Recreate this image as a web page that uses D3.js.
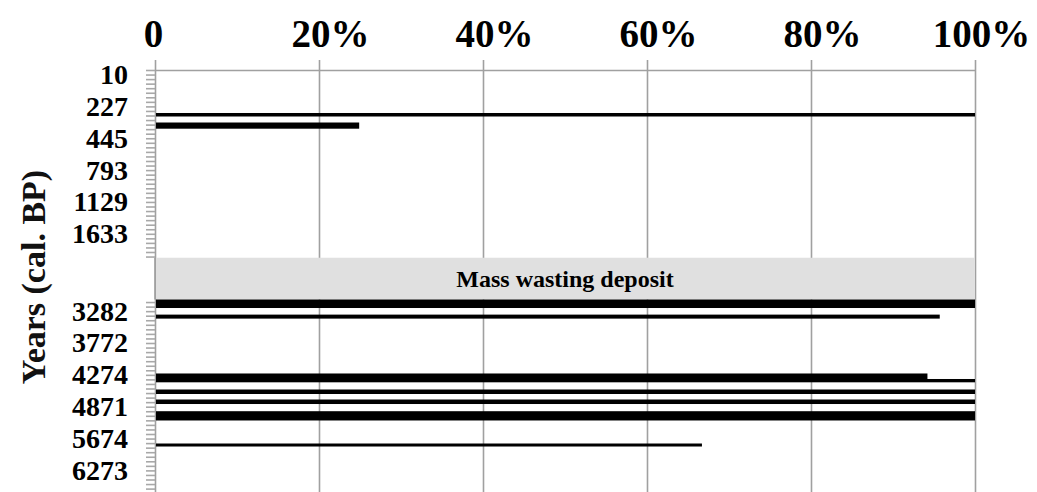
<!DOCTYPE html>
<html>
<head>
<meta charset="utf-8">
<script src="https://cdn.jsdelivr.net/npm/d3@7"></script>
<style>
  body { margin: 0; background: #fff; }
  #chart { width: 1037px; height: 492px; overflow: hidden; }
  .axis text { font-family: "Liberation Serif", "DejaVu Serif", serif; font-weight: bold; fill: #000; }
</style>
</head>
<body>
<div id="chart"></div>
<script>
// percent axis
const xTicks = [0, 20, 40, 60, 80, 100]
const xTickLabels = ['0', '20%', '40%', '60%', '80%', '100%']

// sample index of each labelled age (one label every 7 samples)
const yTickIdx = [0, 7, 14, 21, 28, 35, 52, 59, 66, 73, 80, 87]
const yTickLabels = ['10', '227', '445', '793', '1129', '1633', '3282', '3772', '4274', '4871', '5674', '6273']

// bars: sample interval (index units) and percent
const barStart = [9.45, 11.54, 50.44, 53.76, 66.70, 67.91, 70.22, 72.42, 74.99, 82.09]
const barEnd = [10.22, 12.90, 52.31, 54.64, 67.91, 68.64, 71.21, 73.41, 77.03, 82.75]
const barValue = [100, 24.9, 100, 95.7, 94.2, 100, 100, 100, 100, 66.7]

// mass wasting interval
const gapStart = 41.26
const gapEnd = 50.44
const gapLabel = 'Mass wasting deposit'

const upperSamples = d3.range(0, 42)
const lowerSamples = d3.range(51, 94)

const width = 1037
const height = 492
const margin = { top: 70, left: 155, right: 62 }
const rowH = 4.55
const nRows = 93

const svg = d3.select('#chart')
    .append('svg')
    .attr('width', width)
    .attr('height', height)

const x = d3.scaleLinear()
    .domain([0, 100])
    .range([margin.left, width - margin.right])

const y = d3.scaleLinear()
    .domain([0, nRows])
    .range([margin.top, margin.top + nRows * rowH])

const plotBottom = y(nRows)

// gridlines
svg.append('g')
    .attr('class', 'grid')
    .attr('transform', `translate(0, ${margin.top})`)
    .call(d3.axisBottom(x).tickValues(xTicks).tickSize(plotBottom - margin.top).tickFormat(''))
    .call(g => g.select('.domain').remove())
    .call(g => g.selectAll('line').attr('stroke', '#a0a0a0').attr('stroke-width', 1.6))

// mass wasting band
svg.append('rect')
    .attr('x', x(0) + 1)
    .attr('width', x(100) - x(0) - 1)
    .attr('y', y(gapStart))
    .attr('height', y(gapEnd) - y(gapStart))
    .attr('fill', '#e0e0e0')

svg.append('line')
    .attr('x1', x(0)).attr('x2', x(0))
    .attr('y1', y(gapStart)).attr('y2', y(gapEnd))
    .attr('stroke', '#a0a0a0').attr('stroke-width', 1.6)

svg.append('text')
    .attr('x', (x(0) + x(100)) / 2)
    .attr('y', (y(gapStart) + y(gapEnd)) / 2)
    .attr('text-anchor', 'middle')
    .attr('dy', '0.35em')
    .style('font-family', '"Liberation Serif", serif')
    .style('font-weight', 'bold')
    .style('font-size', '24px')
    .text(gapLabel)

// top axis
svg.append('g')
    .attr('class', 'axis')
    .attr('transform', `translate(0, ${margin.top})`)
    .call(d3.axisTop(x).tickValues(xTicks).tickSize(10).tickSizeOuter(0).tickPadding(13)
        .tickFormat((d, i) => xTickLabels[i]))
    .call(g => g.select('.domain').attr('stroke', '#a0a0a0').attr('stroke-width', 1.6))
    .call(g => g.selectAll('line').attr('stroke', '#a0a0a0').attr('stroke-width', 1.6))
    .call(g => g.selectAll('text')
        .style('font-size', '39px')
        .attr('dx', (d, i) => i === 0 ? -2 : (d === 100 ? 6 : 11)))

// minor ticks on left axis
const leftTicks = svg.append('g')
    .attr('transform', `translate(${margin.left}, 0)`)

leftTicks.append('g')
    .call(d3.axisLeft(y).tickValues(upperSamples).tickSize(9).tickFormat(''))
    .call(g => g.select('.domain').remove())

leftTicks.append('g')
    .call(d3.axisLeft(y).tickValues(lowerSamples).tickSize(9).tickFormat(''))
    .call(g => g.select('.domain').remove())

leftTicks.selectAll('line').attr('stroke', '#a8a8a8').attr('stroke-width', 1.6)

// left labels
svg.append('g')
    .attr('class', 'axis')
    .attr('transform', `translate(${margin.left}, 0)`)
    .call(d3.axisLeft(y).tickValues(yTickIdx.map(d => d + 0.5)).tickSize(0).tickPadding(27)
        .tickFormat((d, i) => yTickLabels[i]))
    .call(g => g.select('.domain').remove())
    .call(g => g.selectAll('text').style('font-size', '28px').attr('dy', '0.4em'))

// bars
svg.append('g')
    .selectAll('rect')
    .data(barValue)
    .join('rect')
    .attr('x', x(0) + 1)
    .attr('y', (d, i) => y(barStart[i]))
    .attr('width', d => x(d) - x(0) - 1)
    .attr('height', (d, i) => y(barEnd[i]) - y(barStart[i]))
    .attr('fill', '#000')

// axis title
svg.append('text')
    .attr('transform', `translate(45, 277) rotate(-90)`)
    .attr('text-anchor', 'middle')
    .style('font-family', '"Liberation Serif", serif')
    .style('font-weight', 'bold')
    .style('font-size', '34px')
    .style('fill', '#111')
    .text('Years (cal. BP)')
</script>
</body>
</html>
